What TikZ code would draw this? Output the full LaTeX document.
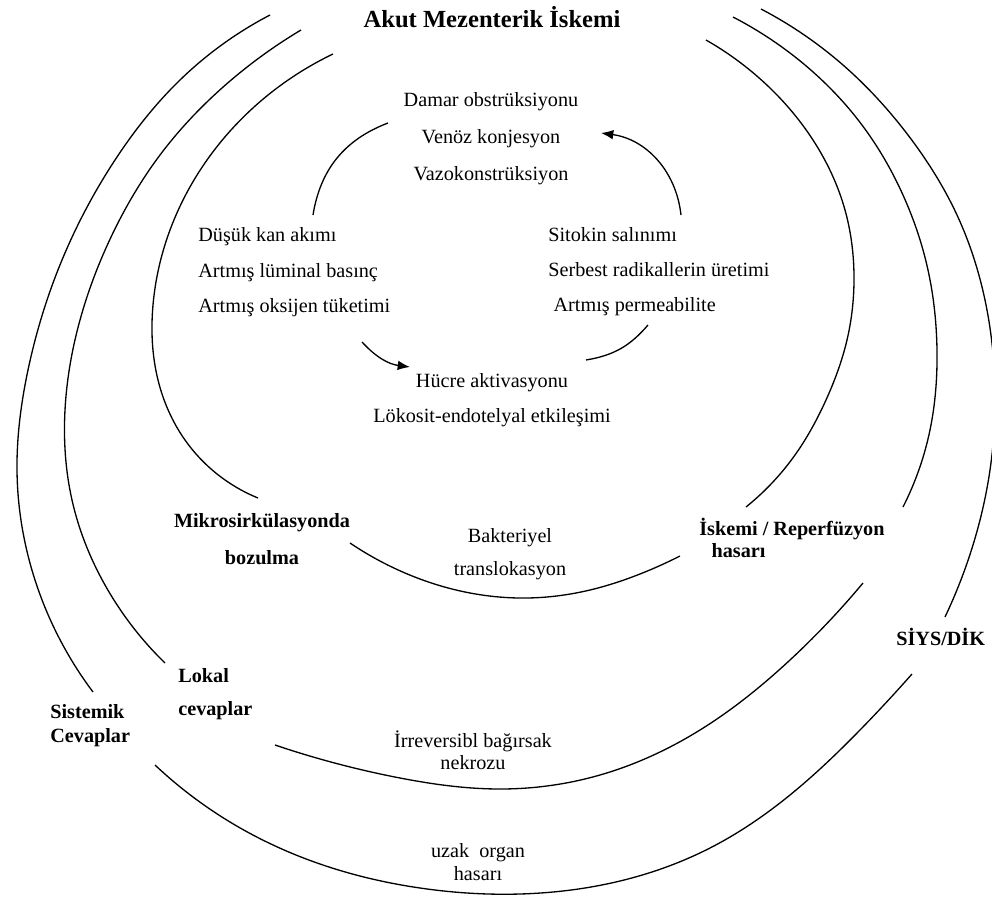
\documentclass[tikz,border=0pt]{standalone}
\usepackage{fontspec}
\setmainfont{Liberation Serif}
\usetikzlibrary{arrows.meta, hobby}
\tikzset{
  txt/.style={inner sep=0pt,align=center,font=\fontsize{11.5}{#1}\selectfont},
  txt/.default=13.8pt,
  lbl/.style={inner sep=0pt,align=center,font=\fontsize{11.5}{#1}\selectfont\bfseries},
  lbl/.default=13.8pt,
  headline/.style={inner sep=0pt,anchor=base,font=\fontsize{14}{17}\selectfont\bfseries},
  ring/.style={line width=0.75pt,use Hobby shortcut},
  line/.style={line width=0.75pt},
  arr/.style={line width=0.75pt,-{Latex[length=7pt,width=5.5pt]}}
}
\begin{document}
\begin{tikzpicture}[x=0.02cm,y=-0.02cm]
\useasboundingbox (0,0) rectangle (992,897);
\node[headline] (akut) at (492,27) {Akut Mezenterik İskemi};
\node[txt=21pt, anchor=north] (damar) at (491,92) {Damar obstrüksiyonu\\Venöz konjesyon\\Vazokonstrüksiyon};
\node[txt=20.3pt, align=left, anchor=north west] (dusuk) at (198,227) {Düşük kan akımı\\Artmış lüminal basınç\\Artmış oksijen tüketimi};
\node[txt=20pt, align=left, anchor=north west] (sitokin) at (548,227) {Sitokin salınımı\\Serbest radikallerin üretimi\\\hspace*{3pt}Artmış permeabilite};
\node[txt=20pt, anchor=north] (hucre) at (492,373) {Hücre aktivasyonu\\Lökosit-endotelyal etkileşimi};
\node[lbl=21pt, anchor=north] (mikro) at (262,513) {Mikrosirkülasyonda\\bozulma};
\node[txt=18.7pt, anchor=north] (bakteri) at (510,528) {Bakteriyel\\translokasyon};
\node[lbl=12.5pt, align=left, anchor=north west] (iskemi) at (699,518) {İskemi / Reperfüzyon\\\hspace*{7pt}hasarı};
\node[lbl=18.7pt, align=left, anchor=north west] (lokal) at (178,668) {Lokal\\cevaplar};
\node[lbl=13.6pt, align=left, anchor=north west] (sistemik) at (50,704) {Sistemik\\Cevaplar};
\node[lbl, anchor=north west] (siys) at (896,628) {SİYS/DİK};
\node[txt=13pt, anchor=north] (nekroz) at (473,730) {İrreversibl bağırsak\\nekrozu};
\node[txt=13pt, anchor=north] (uzak) at (478,843) {uzak\ \ organ\\hasarı};

\draw[ring] (270,15) .. (180,80) .. (115,160) .. (62,260) .. (28,370) .. (17,470) .. (35,580) .. (93,692);
\draw[ring] (301,30) .. (222,88) .. (160,155) .. (112,235) .. (80,320) .. (65,410) .. (72,500) .. (105,585) .. (165,663);
\draw[ring] (333,54) .. (262,100) .. (207,160) .. (170,230) .. (153,305) .. (158,380) .. (185,440) .. (258,498);
\draw[ring] (706,40) .. (770,88) .. (818,148) .. (845,210) .. (854,275) .. (847,340) .. (826,400) .. (795,455) .. (746,507);
\draw[ring] (733,17) .. (805,65) .. (862,125) .. (903,195) .. (928,270) .. (937,350) .. (930,430) .. (903,507);
\draw[ring] (761,9) .. (843,65) .. (908,135) .. (957,215) .. (985,300) .. (995,390) .. (990,470) .. (973,545) .. (945,617);
\draw[ring] (350,543) .. (405,573) .. (465,592) .. (527,598) .. (590,590) .. (640,574) .. (680,556);
\draw[ring] (275,745) .. (400,778) .. (500,789) .. (600,775) .. (700,730) .. (790,660) .. (863,583);
\draw[ring] (155,765) .. (230,822) .. (320,864) .. (420,888) .. (520,894) .. (620,881) .. (710,848) .. (790,795) .. (860,730) .. (912,674);

\coordinate (a1s) at (388,123);
\coordinate (a1e) at (313,215);
\coordinate (a2s) at (362,342);
\coordinate (a2e) at (410,367);
\coordinate (a3s) at (681,215);
\coordinate (a3e) at (601,133);
\coordinate (a4s) at (586,360);
\coordinate (a4e) at (648,325);
\draw[line] (a1s) to[bend right=30] (a1e);
\draw[arr] (a2s) to[bend right=20] (a2e);
\draw[arr] (a3s) to[bend right=38] (a3e);
\draw[line] (a4s) to[bend right=20] (a4e);
\end{tikzpicture}
\end{document}
